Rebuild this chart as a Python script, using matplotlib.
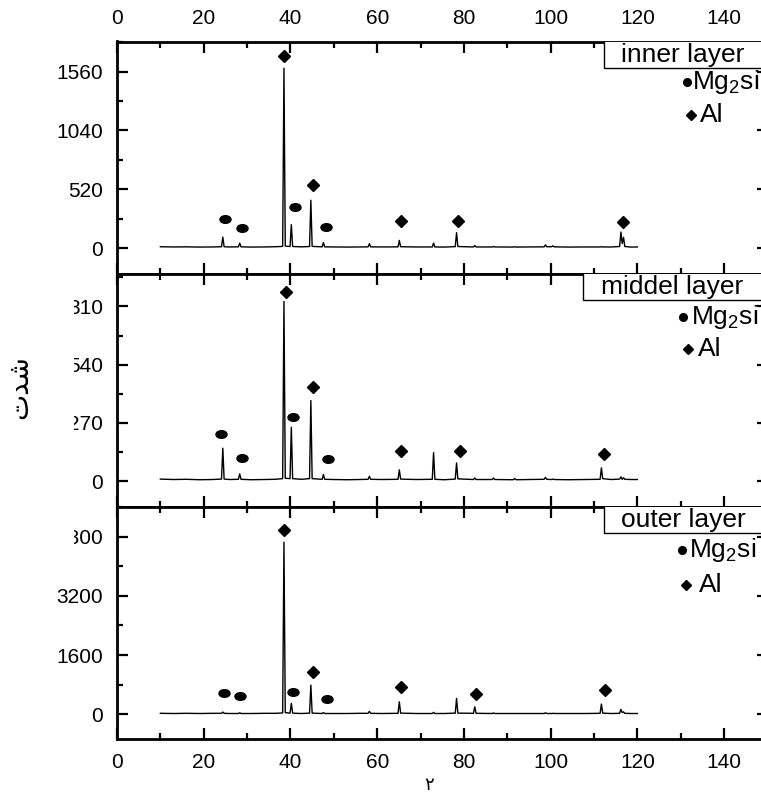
import matplotlib
matplotlib.use("Agg")
import matplotlib.pyplot as plt
from matplotlib.patches import Rectangle
from matplotlib.markers import MarkerStyle
from matplotlib.transforms import Affine2D, IdentityTransform
from matplotlib.ticker import MultipleLocator

plt.rcParams['font.family'] = ['Liberation Sans', 'DejaVu Sans']
plt.rcParams['mathtext.fontset'] = 'custom'
plt.rcParams['mathtext.rm'] = 'Liberation Sans'
plt.rcParams['mathtext.it'] = 'Liberation Sans'

# 2-theta positions of the traced pattern (shared by the three layers)
two_theta = [10, 13, 16, 19, 22, 24.1, 24.4, 24.7, 26, 28.0, 28.3, 28.6,
             31, 34, 36.5, 38.2, 38.5, 38.8, 39.9, 40.2, 40.5, 42.5,
             44.4, 44.7, 45.0, 47.3, 47.6, 47.9, 50, 53, 56, 57.9, 58.2, 58.5,
             61, 64.8, 65.1, 65.4, 69, 72.7, 73.0, 73.3, 75.5, 78.0, 78.3, 78.6,
             82.2, 82.5, 82.8, 86.5, 86.8, 87.1, 91.4, 91.7, 92.0, 95,
             98.5, 98.8, 99.1, 100.2, 100.5, 100.8, 104, 108,
             111.4, 111.7, 112.0, 114, 115.9, 116.2, 116.5, 116.8, 117.1,
             118.5, 120]

inner_i = [12, 10, 11, 9, 10, 12, 97, 12, 10, 11, 44, 11,
           9, 10, 12, 15, 1590, 18, 14, 207, 14, 11,
           14, 423, 15, 11, 48, 11, 10, 9, 10, 11, 39, 11,
           10, 11, 68, 12, 10, 10, 44, 10, 9, 13, 136, 14,
           10, 22, 10, 10, 14, 10, 9, 12, 9, 10,
           11, 28, 12, 12, 20, 11, 9, 10,
           10, 12, 10, 10, 14, 142, 40, 95, 14,
           9, 10]

middle_i = [10, 8, 9, 7, 8, 10, 153, 10, 8, 9, 34, 9,
            7, 8, 9, 12, 833, 14, 12, 250, 12, 9,
            12, 374, 12, 9, 31, 9, 8, 7, 8, 9, 23, 9,
            8, 9, 53, 10, 8, 9, 133, 9, 7, 10, 85, 11,
            8, 15, 8, 8, 15, 8, 7, 13, 7, 8,
            9, 18, 9, 8, 10, 8, 7, 8,
            9, 62, 12, 8, 10, 20, 9, 16, 9,
            8, 8]

outer_i = [20, 15, 20, 15, 20, 20, 54, 20, 15, 15, 35, 15,
           15, 20, 20, 30, 4660, 40, 25, 289, 25, 15,
           25, 784, 25, 15, 40, 15, 15, 15, 20, 20, 73, 20,
           15, 20, 333, 25, 15, 15, 45, 15, 15, 25, 424, 25,
           20, 198, 20, 15, 30, 15, 15, 15, 15, 15,
           15, 35, 15, 15, 20, 15, 15, 15,
           20, 270, 25, 15, 20, 127, 40, 60, 20,
           15, 15]

# phase markers (Mg2si = circle, Al = diamond)
inner_circ_x = [24.8, 28.9, 41.0, 48.2]
inner_circ_y = [260, 177, 364, 186]
inner_dia_x = [38.6, 45.3, 65.5, 78.6, 116.6]
inner_dia_y = [1700, 556, 237, 237, 231]

middle_circ_x = [24.0, 28.9, 40.6, 48.6]
middle_circ_y = [218, 107, 297, 102]
middle_dia_x = [39.0, 45.3, 65.5, 79.1, 112.2]
middle_dia_y = [875, 436, 138, 142, 125]

outer_circ_x = [24.6, 28.4, 40.5, 48.4]
outer_circ_y = [577, 496, 604, 415]
outer_dia_x = [38.5, 45.2, 65.4, 82.8, 112.5]
outer_dia_y = [4993, 1127, 721, 550, 649]

layer_names = ["inner layer", "middel layer", "outer layer"]

W, H = 761, 798
fig = plt.figure(figsize=(W / 100, H / 100), dpi=100)

left = 117 / W
width = (767.5 - 117) / W
ph = 232.5 / H
bottoms = [(H - 274) / H, (H - 506.5) / H, 59 / H]

panels = [
    (inner_i, inner_circ_x, inner_circ_y, inner_dia_x, inner_dia_y, (-229, 1826), 520),
    (middle_i, middle_circ_x, middle_circ_y, middle_dia_x, middle_dia_y, (-117, 960), 270),
    (outer_i, outer_circ_x, outer_circ_y, outer_dia_x, outer_dia_y, (-676, 5625), 1600),
]
# legend layout per panel: box left, title x, bullet x, "Mg2si" x,
# diamond x, "Al" x (data), Mg2si y, Al y (axes fraction)
box_pos = [(112.2, 116.3, 131.4, 132.6, 132.3, 134.4, 0.826, 0.684),
           (107.4, 111.5, 130.5, 132.3, 131.6, 133.9, 0.816, 0.679),
           (112.2, 116.3, 130.3, 131.8, 131.2, 134.2, 0.813, 0.662)]

circle = MarkerStyle('o', transform=Affine2D().scale(1.45, 1.0))
axes = []
for k, (inten, cx, cy, dx, dy, ylim, step) in enumerate(panels):
    ax = fig.add_axes([left, bottoms[k], width, ph])
    axes.append(ax)
    ax.plot(two_theta, inten, color='black', lw=1.0)
    ax.plot(cx, cy, ls='none', marker=circle, ms=5.5, color='black')
    ax.plot(dx, dy, ls='none', marker='D', ms=6, color='black')
    ax.set_xlim(0, 150)
    ax.set_ylim(*ylim)
    ax.xaxis.set_major_locator(MultipleLocator(20))
    ax.xaxis.set_minor_locator(MultipleLocator(10))
    ax.yaxis.set_major_locator(MultipleLocator(step))
    ax.yaxis.set_minor_locator(MultipleLocator(step / 2))
    ax.tick_params(which='both', direction='in', top=True, right=True,
                   width=1.6, labelsize=15, pad=10)
    ax.tick_params(which='major', length=8)
    ax.tick_params(which='minor', length=4)
    ax.tick_params(axis='x', labeltop=(k == 0), labelbottom=(k == 2))
    for s in ax.spines.values():
        s.set_linewidth(2)

    bx, tx, bux, mx, dmx, alx, my, aly = box_pos[k]
    trans = ax.get_xaxis_transform()
    ax.add_patch(Rectangle((bx, 0.888), 150 - bx, 0.2, transform=trans,
                           facecolor='white', edgecolor='black', lw=1.0, zorder=3))
    ax.text(tx, 0.944, layer_names[k], transform=trans,
            fontsize=19, ha='left', va='center', zorder=5)
    ax.plot([bux], [my], ls='none', marker='o', ms=5.5, color='black',
            transform=trans, clip_on=False)
    ax.text(mx, my, "Mg$_2$si", transform=trans,
            fontsize=19, ha='left', va='center')
    ax.plot([dmx], [aly], ls='none', marker='D', ms=5, color='black',
            transform=trans, clip_on=False)
    ax.text(alx, aly, "Al", transform=trans,
            fontsize=19, ha='left', va='center')

# y label (Arabic, visual order with presentation forms) and x label
fig.text(19 / W, 1 - 387 / H, "\ufe95\ufeaa\ufeb7", rotation=90, ha='center', va='center',
         fontsize=20, family=['DejaVu Sans'])
fig.text(429 / W, 1 - 785 / H, "\u0662", ha='center', va='center', fontsize=13,
         family=['DejaVu Sans'])

# the reference has the left part of some tick labels hidden
fig.canvas.draw()
renderer = fig.canvas.get_renderer()
for k, frac in [(1, 0.17), (2, 0.37)]:
    for lab in axes[k].get_yticklabels():
        txt = lab.get_text().replace('\u2212', '-')
        if not lab.get_visible() or len(txt) < 3:
            continue
        if k == 2 and txt != '4800':
            continue
        bb = lab.get_window_extent(renderer)
        fig.add_artist(Rectangle((bb.x0 - 4, bb.y0 - 2), 4 + bb.width * frac, bb.height + 4,
                                 transform=IdentityTransform(), facecolor='white',
                                 edgecolor='none', zorder=10))

fig.savefig("out.png", dpi=100)
